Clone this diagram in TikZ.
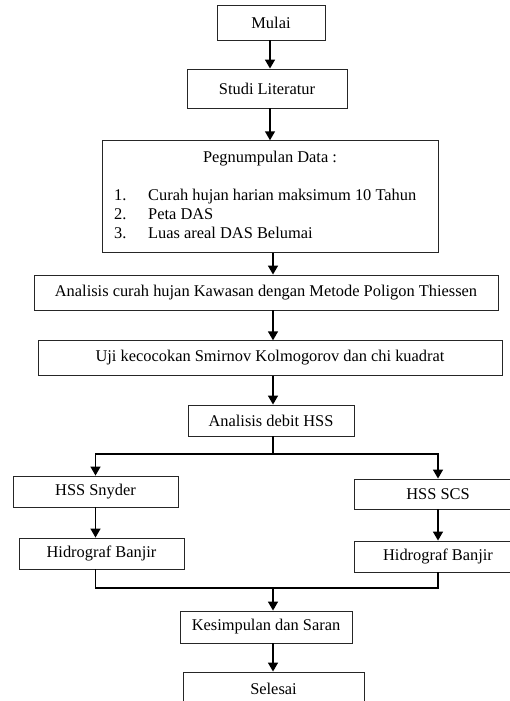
\documentclass[tikz,border=0pt]{standalone}
\usepackage{fontspec}
\setmainfont{Liberation Serif}
\usetikzlibrary{arrows.meta}
\begin{document}
\begin{tikzpicture}[x=1pt,y=-1pt,
  box/.style={draw=black!85,line width=0.9pt,rectangle,inner sep=0pt,font=\fontsize{16.4}{19}\selectfont},
  txt/.style={inner sep=0pt,font=\fontsize{16.4}{19}\selectfont,anchor=base west},
  conn/.style={line width=1.5pt,-{Triangle[width=10pt,length=9pt]}},
  line/.style={line width=1.5pt}]
\useasboundingbox (0,0) rectangle (510,701);
\clip (0,0) rectangle (510,701);
\coordinate (sp) at (273,0);
\coordinate (sp0) at (270,0);
\node[box,minimum width=108pt,minimum height=35pt] (mulai) at (271,22.5) {Mulai};
\node[box,minimum width=160pt,minimum height=39pt] (studi) at (267,88.5) {Studi Literatur};
\node[box,minimum width=336pt,minimum height=112pt] (peg) at (270.7,196.7) {};
\node[inner sep=0pt,font=\fontsize{16.4}{19}\selectfont,anchor=base] (pegt) at (270,162) {Pegnumpulan Data :};
\node[txt] (n1) at (114,200) {1.};
\node[txt] (i1) at (148,200) {Curah hujan harian maksimum 10 Tahun};
\node[txt] (n2) at (114,219) {2.};
\node[txt] (i2) at (148,219) {Peta DAS};
\node[txt] (n3) at (114,238) {3.};
\node[txt] (i3) at (148,238) {Luas areal DAS Belumai};
\node[box,minimum width=464pt,minimum height=35pt] (anal) at (266,292.5) {Analisis curah hujan Kawasan dengan Metode Poligon Thiessen};
\node[box,minimum width=464pt,minimum height=34.5pt] (uji) at (270,358) {Uji kecocokan Smirnov Kolmogorov dan chi kuadrat};
\node[box,minimum width=166pt,minimum height=31pt] (debit) at (271,420.5) {Analisis debit HSS};
\coordinate (br) at (273,454);
\node[box,minimum width=165pt,minimum height=31pt] (snyder) at (95.5,491.5) {HSS Snyder};
\node[box,minimum width=168pt,minimum height=30pt] (scs) at (438,494) {HSS SCS};
\node[box,minimum width=165pt,minimum height=31pt] (hidl) at (101.5,553.5) {Hidrograf Banjir};
\node[box,minimum width=168pt,minimum height=31pt] (hidr) at (438,556.5) {Hidrograf Banjir};
\coordinate (mg) at (273,588);
\node[box,minimum width=172pt,minimum height=32pt] (kes) at (266,627) {Kesimpulan dan Saran};
\node[box,minimum width=181pt,minimum height=38pt] (sel) at (273.5,691) {};
\node[inner sep=0pt,font=\fontsize{16.4}{19}\selectfont] (selt) at (273.5,689) {Selesai};
\draw[conn] (mulai.south -| sp0) -- (studi.north -| sp0);
\draw[conn] (studi.south -| sp0) -- (peg.north -| sp0);
\draw[conn] (peg.south -| sp) -- (anal.north -| sp);
\draw[conn] (anal.south -| sp) -- (uji.north -| sp);
\draw[conn] (uji.south -| sp) -- (debit.north -| sp);
\draw[line] (debit.south -| sp) -- (br);
\draw[conn] (br) -| (snyder.north);
\draw[conn] (br) -| (scs.north);
\draw[conn] (snyder.south) -- (hidl.north -| snyder.south);
\draw[conn] (scs.south) -- (hidr.north);
\draw[line] (hidl.south -| snyder.south) |- (mg);
\draw[line] (hidr.south) |- (mg);
\draw[conn] (mg) -- (kes.north -| sp);
\draw[conn] (kes.south -| sp) -- (sel.north -| sp);
\end{tikzpicture}
\end{document}
